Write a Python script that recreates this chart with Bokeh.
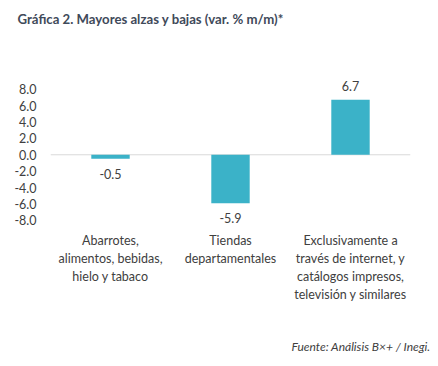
from bokeh.plotting import figure
from bokeh.models import (ColumnDataSource, FactorRange, Range1d, FixedTicker,
                          NumeralTickFormatter, Span, Title)
from bokeh.core.properties import value
from bokeh.embed import file_html
from bokeh.resources import INLINE

# ---- data ----
categories = [
    "Abarrotes,\nalimentos, bebidas,\nhielo y tabaco",
    "Tiendas\ndepartamentales",
    "Exclusivamente a\ntravés de internet, y\ncatálogos impresos,\ntelevisión y similares",
]
values = [-0.5, -5.9, 6.7]
value_labels = ["-0.5", "-5.9", "6.7"]
y_ticks = [-8, -6, -4, -2, 0, 2, 4, 6, 8]
title_text = "Gráfica 2. Mayores alzas y bajas (var. % m/m)*"
source_text = "Fuente: Análisis B×+ / Inegi."

FONT = "Lato"
BAR = "#3BB2C8"
TXT = "#404040"

W, H = 430, 358
TOP, BOTTOM, LEFT, RIGHT = 31, 24, 50, 20
px_per_unit = 8.28
zero_px = 155.5
y_top = (zero_px - TOP) / px_per_unit
y_bot = -((H - BOTTOM) - zero_px) / px_per_unit

p = figure(width=W, height=H, x_range=FactorRange(factors=categories),
           y_range=Range1d(y_bot, y_top), output_backend="svg",
           toolbar_location=None, x_axis_location=None,
           min_border_left=LEFT, min_border_right=RIGHT, min_border_top=TOP,
           min_border_bottom=BOTTOM)
p.outline_line_color = None
p.grid.visible = False

p.title.text = title_text
p.title.align = "left"
p.title.offset = -33
p.title.text_font = FONT
p.title.text_font_size = "13.2px"
p.title.text_font_style = "bold"
p.title.text_color = "#3F4A5A"

p.add_layout(Title(text=source_text, align="right", offset=-20,
                   text_font=FONT, text_font_size="12px",
                   text_font_style="italic", text_color=TXT), "below")

ya = p.yaxis[0]
ya.ticker = FixedTicker(ticks=y_ticks)
ya.formatter = NumeralTickFormatter(format="0.0")
ya.axis_line_color = None
ya.major_tick_line_color = None
ya.minor_tick_line_color = None
ya.major_tick_out = 0
ya.major_tick_in = 0
ya.major_label_standoff = 14
ya.major_label_text_font = FONT
ya.major_label_text_font_size = "12.5px"
ya.major_label_text_color = TXT

p.add_layout(Span(location=0, dimension="width", line_color="#d9d9d9",
                  line_width=1, level="underlay"))

offsets = [15 if v < 0 else -14 for v in values]
src = ColumnDataSource(dict(x=categories, top=values, lab=value_labels, off=offsets,
                            cy=[min(y_ticks)] * len(categories)))

p.vbar(x="x", top="top", bottom=0, width=0.32, source=src,
       fill_color=BAR, line_color=None)

p.text(x="x", y="top", text="lab", y_offset="off", source=src,
       text_align="center", text_baseline="middle",
       text_font=value(FONT), text_font_size="12.5px", text_color=TXT)

p.text(x="x", y="cy", text="x", y_offset=13, source=src,
       text_align="center", text_baseline="top", text_line_height=1.2,
       text_font=value(FONT), text_font_size="12.5px", text_color=TXT)

open("out.html", "w").write(file_html(p, INLINE))
